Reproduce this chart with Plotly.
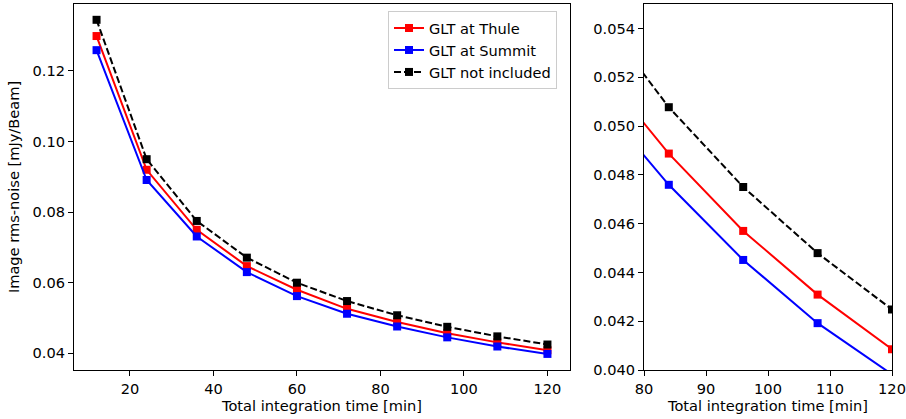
import plotly.graph_objects as go

time_min = [12, 24, 36, 48, 60, 72, 84, 96, 108, 120]
glt_thule = [0.1299, 0.0920, 0.0750, 0.0647, 0.0580, 0.0526, 0.04887, 0.0457, 0.04309, 0.04085]
glt_summit = [0.1259, 0.0891, 0.0731, 0.0630, 0.0562, 0.0512, 0.04759, 0.04451, 0.04192, 0.03982]
glt_not = [0.1345, 0.0950, 0.0775, 0.0671, 0.0600, 0.0548, 0.05077, 0.04750, 0.04479, 0.04248]

series = [
    ("GLT at Thule", glt_thule, "red", "solid"),
    ("GLT at Summit", glt_summit, "blue", "solid"),
    ("GLT not included", glt_not, "black", "7px,3px"),
]

W, H = 906, 419
L, R, T, B = 74, 892, 4, 370
PW = R - L
font = dict(family="DejaVu Sans", size=14.6, color="black")

fig = go.Figure()
for name, vals, col, dash in series:
    for ax, show in (("", True), ("2", False)):
        fig.add_trace(go.Scatter(
            x=time_min, y=vals, name=name, mode="lines+markers",
            line=dict(color=col, width=2, dash=dash),
            marker=dict(symbol="square", size=8, color=col),
            xaxis="x" + ax, yaxis="y" + ax, showlegend=show,
            legendgroup=name,
        ))

axcommon = dict(showline=True, linecolor="black", linewidth=1, mirror=True,
                ticks="outside", ticklen=5, tickcolor="black", showgrid=False,
                zeroline=False, tickfont=font, automargin=False)

fig.update_layout(
    width=W, height=H, margin=dict(l=L, r=W - R, t=T, b=H - B, autoexpand=False),
    plot_bgcolor="white", paper_bgcolor="white", font=font,
    xaxis=dict(domain=[0, (570 - L) / PW], range=[6.6, 125.4],
               tickvals=[20, 40, 60, 80, 100, 120],
               title=dict(text="Total integration time [min]", font=font, standoff=5),
               **axcommon),
    yaxis=dict(domain=[0, 1], range=[0.03526, 0.13898],
               tickvals=[0.04, 0.06, 0.08, 0.10, 0.12], tickformat=".2f",
               title=dict(text="Image rms-noise [mJy/Beam]", font=font, standoff=9),
               **axcommon),
    xaxis2=dict(domain=[(644 - L) / PW, 1], range=[80, 120], anchor="y2",
                tickvals=[80, 90, 100, 110, 120],
                title=dict(text="Total integration time [min]", font=font, standoff=5),
                **axcommon),
    yaxis2=dict(domain=[0, 1], range=[0.040, 0.055], anchor="x2",
                tickvals=[0.040, 0.042, 0.044, 0.046, 0.048, 0.050, 0.052, 0.054],
                tickformat=".3f", **axcommon),
    legend=dict(x=(388 - L) / PW, y=1 - (11 - T) / (B - T), xanchor="left", yanchor="top",
                bgcolor="white", bordercolor="#cccccc", borderwidth=1,
                font=font, tracegroupgap=0, itemwidth=30),
)

fig.write_html("out.html")
